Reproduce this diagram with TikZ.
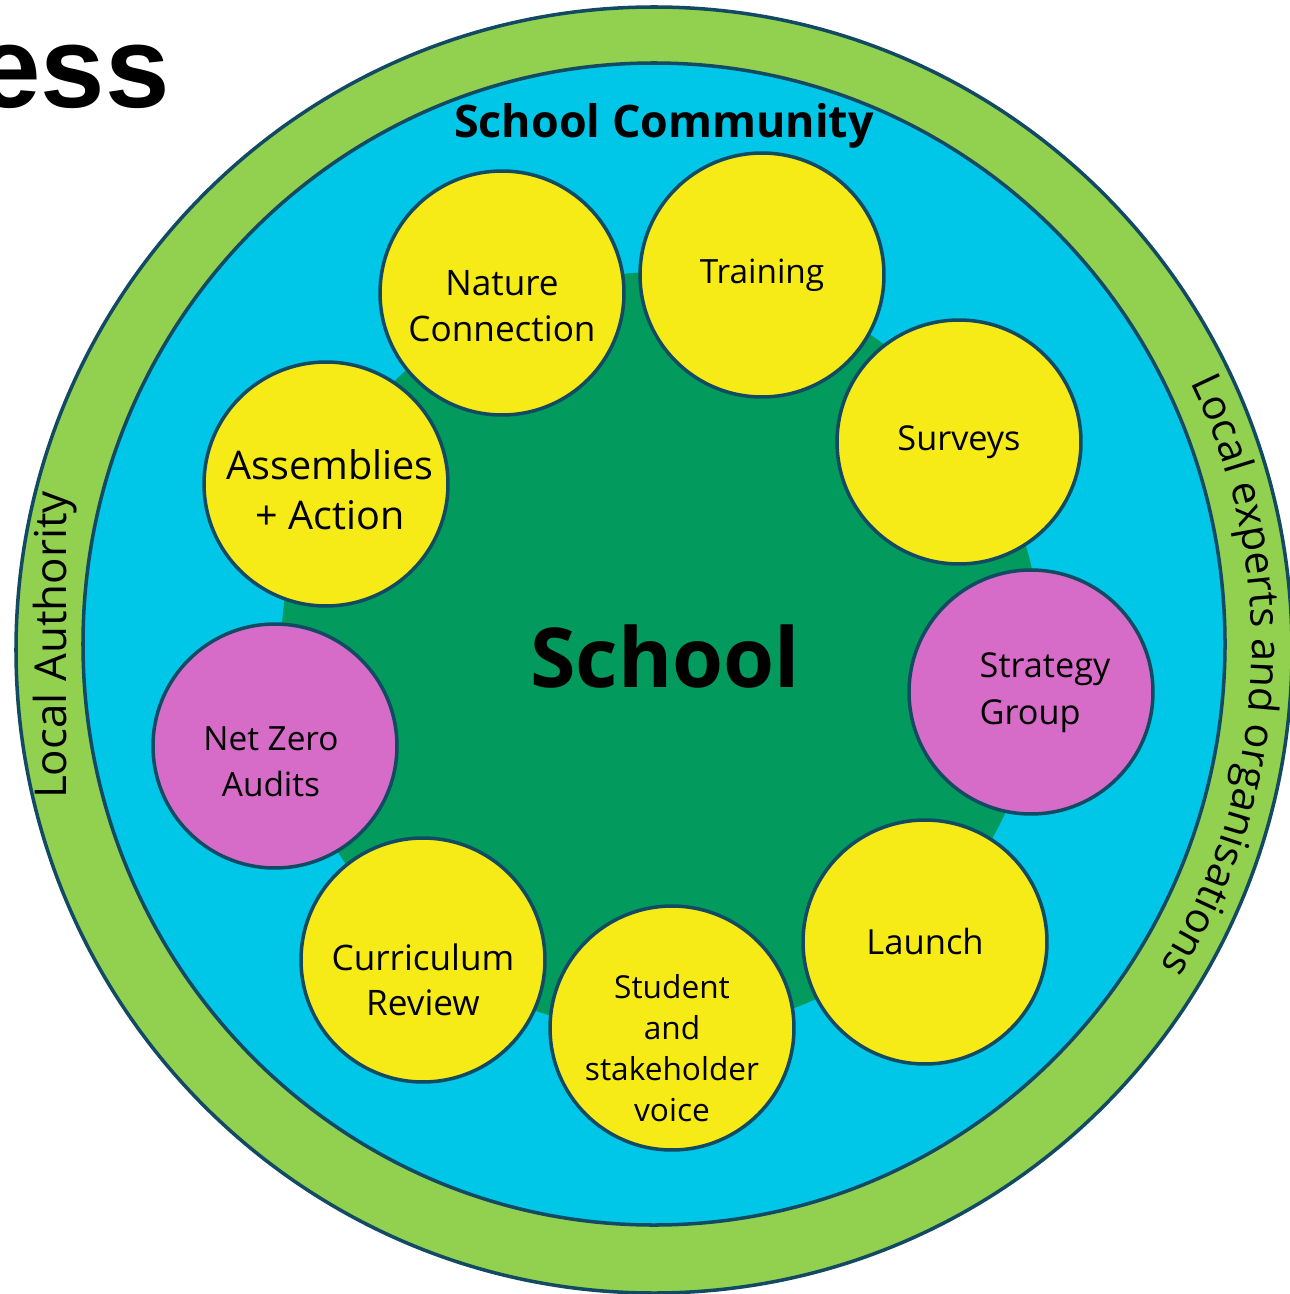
\documentclass[tikz,border=0pt]{standalone}
\usepackage{fontspec}
\setmainfont{Open Sans}
\newfontfamily\arialfont{Liberation Sans}
\usetikzlibrary{calc,decorations.text}
\definecolor{ringgreen}{HTML}{92D050}
\definecolor{commblue}{HTML}{00C6E7}
\definecolor{schoolgreen}{HTML}{039A5E}
\definecolor{stepyellow}{HTML}{F6EB16}
\definecolor{stepmagenta}{HTML}{D66CC7}
\definecolor{edgeblue}{HTML}{124A63}
\tikzset{
  ringshape/.style={draw=edgeblue, line width=2pt},
  stepcircle/.style={circle, draw=edgeblue, line width=2pt, minimum size=4.88cm, inner sep=0pt, fill=stepyellow},
  keycircle/.style={stepcircle, fill=stepmagenta},
  steplabel/.style={align=center, inner sep=0pt, font=\fontsize{20}{26}\selectfont},
  ringlabel/.style={inner sep=0pt, font=\fontsize{25}{30}\selectfont}
}
\begin{document}
\begin{tikzpicture}[x=0.02cm,y=0.02cm]
\path[use as bounding box] (0,0) rectangle (1289,-1294);
% rings
\path[ringshape, fill=ringgreen] (654,-650) circle[x radius=638, y radius=643];
\path[ringshape, fill=commblue] (654,-644) circle[x radius=571, y radius=581];
\path[fill=schoolgreen] (661,-652) circle[radius=380];
% title fragment
\node[anchor=base east, inner sep=0pt, font=\arialfont\bfseries\fontsize{66}{70}\selectfont] (title) at (170,-108) {ess};
% ring labels
\node[inner sep=0pt, font=\bfseries\fontsize{25.5}{30}\selectfont] (community) at (664,-126) {School Community};
\node[ringlabel, rotate=90] (authority) at (55,-645) {Local Authority};
\path[decorate, decoration={text along path, text align=center,
  text={|\fontsize{23.5}{28}\selectfont|Local experts and organisations}}]
  (654,-647) ++(42:598) arc[start angle=42, end angle=-48, radius=598];
\node[inner sep=0pt, font=\bfseries\fontsize{47}{52}\selectfont] (school) at (665,-657) {School};
% step circles
\node[stepcircle] (nat) at (502,-293) {};
\node[stepcircle] (trn) at (762,-275) {};
\node[stepcircle] (srv) at (959,-442) {};
\node[keycircle] (stg) at (1031,-692) {};
\node[stepcircle] (lau) at (925,-942) {};
\node[stepcircle] (stu) at (672,-1028) {};
\node[stepcircle] (cur) at (423,-960) {};
\node[keycircle] (nza) at (275,-746) {};
\node[stepcircle] (asm) at (326,-484) {};
% step labels
\node[steplabel] (natt) at ($(nat)+(0,-13)$) {Nature\\Connection};
\node[steplabel, font=\fontsize{19}{26}\selectfont] (trnt) at (trn) {Training};
\node[steplabel, font=\fontsize{19.5}{26}\selectfont] (srvt) at (srv) {Surveys};
\node[steplabel, align=left, font=\fontsize{19.5}{26.6}\selectfont] (stgt) at ($(stg)+(14,-1)$) {Strategy\\Group};
\node[steplabel, font=\fontsize{19.7}{26}\selectfont] (laut) at (lau) {Launch};
\node[steplabel, font=\fontsize{18}{23.2}\selectfont] (stut) at ($(stu)+(0,-20)$) {Student\\and\\stakeholder\\voice};
\node[steplabel, font=\fontsize{20}{25.5}\selectfont] (curt) at ($(cur)+(0,-20)$) {Curriculum\\Review};
\node[steplabel, font=\fontsize{19}{26}\selectfont] (nzat) at ($(nza)+(-4,-16)$) {Net Zero\\Audits};
\node[steplabel, font=\fontsize{22.5}{28.3}\selectfont] (asmt) at ($(asm)+(4,-6)$) {Assemblies\\+ Action};
\end{tikzpicture}
\end{document}
